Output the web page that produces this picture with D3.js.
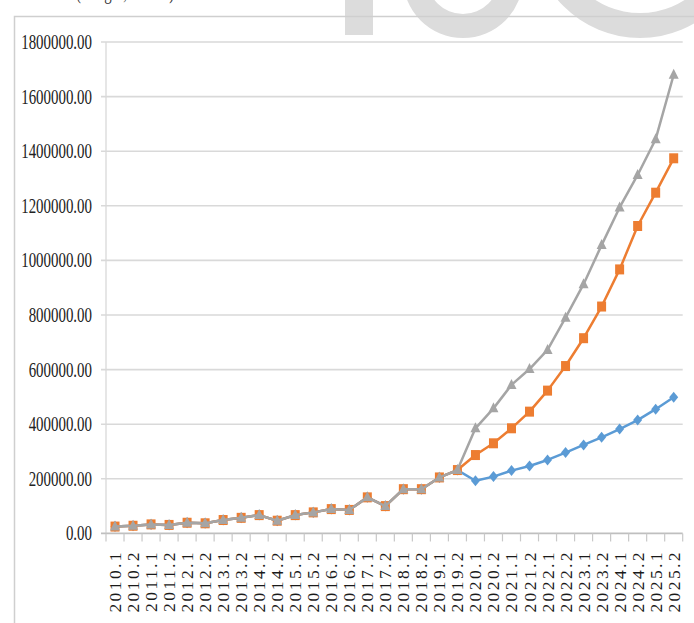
<!DOCTYPE html>
<html>
<head>
<meta charset="utf-8">
<script src="https://cdn.jsdelivr.net/npm/d3@7/dist/d3.min.js"></script>
<style>
  html, body { margin: 0; padding: 0; background: #fff; }
  svg { display: block; }
</style>
</head>
<body>
<svg id="chart" width="694" height="623"></svg>
<script>
const categories = ["2010.1","2010.2","2011.1","2011.2","2012.1","2012.2","2013.1","2013.2",
  "2014.1","2014.2","2015.1","2015.2","2016.1","2016.2","2017.1","2017.2",
  "2018.1","2018.2","2019.1","2019.2","2020.1","2020.2","2021.1","2021.2",
  "2022.1","2022.2","2023.1","2023.2","2024.1","2024.2","2025.1","2025.2"];

const seriesBlue = [25000,28000,33000,31000,39000,37000,49000,57000,67000,46500,67000,77000,
  89000,86000,132000,100000,162000,162000,205000,232000,
  193000,208000,230000,247000,269000,296000,324000,352000,382000,415000,455000,499000];

const seriesOrange = [25000,28000,33000,31000,39000,37000,49000,57000,67000,46500,67000,77000,
  89000,86000,132000,100000,162000,162000,205000,232000,
  287000,330000,385000,446000,523000,613000,715000,831000,967000,1126000,1248000,1374000];

const seriesGray = [25000,28000,33000,31000,39000,37000,49000,57000,67000,46500,67000,77000,
  89000,86000,132000,100000,162000,162000,205000,232000,
  385000,458000,544000,602000,672000,790000,913000,1056000,1194000,1313000,1444000,1680000];

const yTicks = [0,200000,400000,600000,800000,1000000,1200000,1400000,1600000,1800000];

const svg = d3.select("#chart");

// watermark (decorative, partially cut off at the top)
const wm = svg.append("g").attr("fill", "#dcdcdc");
wm.append("rect").attr("x", 345).attr("y", -40).attr("width", 28).attr("height", 75);
const ring = (cx, cy, ro, ri) =>
  `M${cx - ro},${cy}a${ro},${ro} 0 1,0 ${2*ro},0a${ro},${ro} 0 1,0 ${-2*ro},0Z` +
  `M${cx - ri},${cy}a${ri},${ri} 0 1,1 ${2*ri},0a${ri},${ri} 0 1,1 ${-2*ri},0Z`;
wm.append("path").attr("d", ring(463, -22, 60, 36)).attr("fill-rule", "evenodd");
wm.append("path").attr("d", ring(640, -70, 108, 83)).attr("fill-rule", "evenodd");

// cut-off caption at very top (only its lowest part is visible in the reference)
svg.append("text")
  .attr("transform", "translate(76,-1) scale(0.74,1)")
  .attr("font-family", "Liberation Serif")
  .attr("font-size", 20)
  .attr("fill", "#333")
  .text("(Weight, tonnes)");

// outer frame
svg.append("path")
  .attr("d", "M14.5,623V16.5H694")
  .attr("fill", "none")
  .attr("stroke", "#cfcfcf")
  .attr("stroke-width", 1.5);

const x0 = 106, x1 = 682.7, yTop = 42, yBot = 533.4;
const x = d3.scaleBand().domain(categories).range([x0, x1]).padding(0);
const y = d3.scaleLinear().domain([0, 1800000]).range([yBot, yTop]);
const cx = d => x(d) + x.bandwidth() / 2;

// gridlines
svg.append("g").selectAll("line").data(yTicks.filter(v => v > 0)).join("line")
  .attr("x1", 101).attr("x2", x1)
  .attr("y1", d => y(d)).attr("y2", d => y(d))
  .attr("stroke", "#d9d9d9").attr("stroke-width", 1.6);

// y axis line
svg.append("line")
  .attr("x1", x0).attr("x2", x0).attr("y1", yTop).attr("y2", yBot)
  .attr("stroke", "#d9d9d9").attr("stroke-width", 1.3);

// y labels
svg.append("g").selectAll("text").data(yTicks).join("text")
  .attr("transform", d => `translate(92,${y(d)}) scale(0.71,1)`)
  .attr("text-anchor", "end")
  .attr("dominant-baseline", "central")
  .attr("font-family", "Liberation Serif")
  .attr("font-size", 21)
  .attr("fill", "#222")
  .text(d => d3.format(".2f")(d));

// x axis line and ticks
svg.append("line")
  .attr("x1", 101).attr("x2", x1).attr("y1", yBot).attr("y2", yBot)
  .attr("stroke", "#bfbfbf").attr("stroke-width", 1.6);
const bounds = categories.map(c => x(c)).concat([x1]);
svg.append("g").selectAll("line").data(bounds).join("line")
  .attr("x1", d => d).attr("x2", d => d)
  .attr("y1", yBot).attr("y2", yBot + 8)
  .attr("stroke", "#c8c8c8").attr("stroke-width", 1.2);

// x labels
svg.append("g").selectAll("text").data(categories).join("text")
  .attr("transform", d => `translate(${cx(d)},550) rotate(-90)`)
  .attr("text-anchor", "end")
  .attr("dominant-baseline", "central")
  .attr("font-family", "Liberation Serif")
  .attr("font-size", 17.5)
  .attr("letter-spacing", "2.4px")
  .attr("fill", "#1a1a1a")
  .text(d => d);

const line = d3.line().x((d, i) => cx(categories[i])).y(d => y(d));

function drawSeries(data, color, shape) {
  svg.append("path").datum(data)
    .attr("d", line)
    .attr("fill", "none")
    .attr("stroke", color)
    .attr("stroke-width", 2.5)
    .attr("stroke-linejoin", "round");
  const g = svg.append("g").attr("fill", color);
  data.forEach((v, i) => {
    const px = cx(categories[i]), py = y(v);
    if (shape === "diamond") {
      g.append("path").attr("d", `M${px},${py-5.5}L${px+4.5},${py}L${px},${py+5.5}L${px-4.5},${py}Z`);
    } else if (shape === "square") {
      g.append("rect").attr("x", px - 4.5).attr("y", py - 5).attr("width", 9).attr("height", 10);
    } else {
      g.append("path").attr("d", `M${px},${py-6}L${px+5},${py+4}L${px-5},${py+4}Z`);
    }
  });
}

drawSeries(seriesBlue, "#5b9bd5", "diamond");
drawSeries(seriesOrange, "#ed7d31", "square");
drawSeries(seriesGray, "#a5a5a5", "triangle");
</script>
</body>
</html>
